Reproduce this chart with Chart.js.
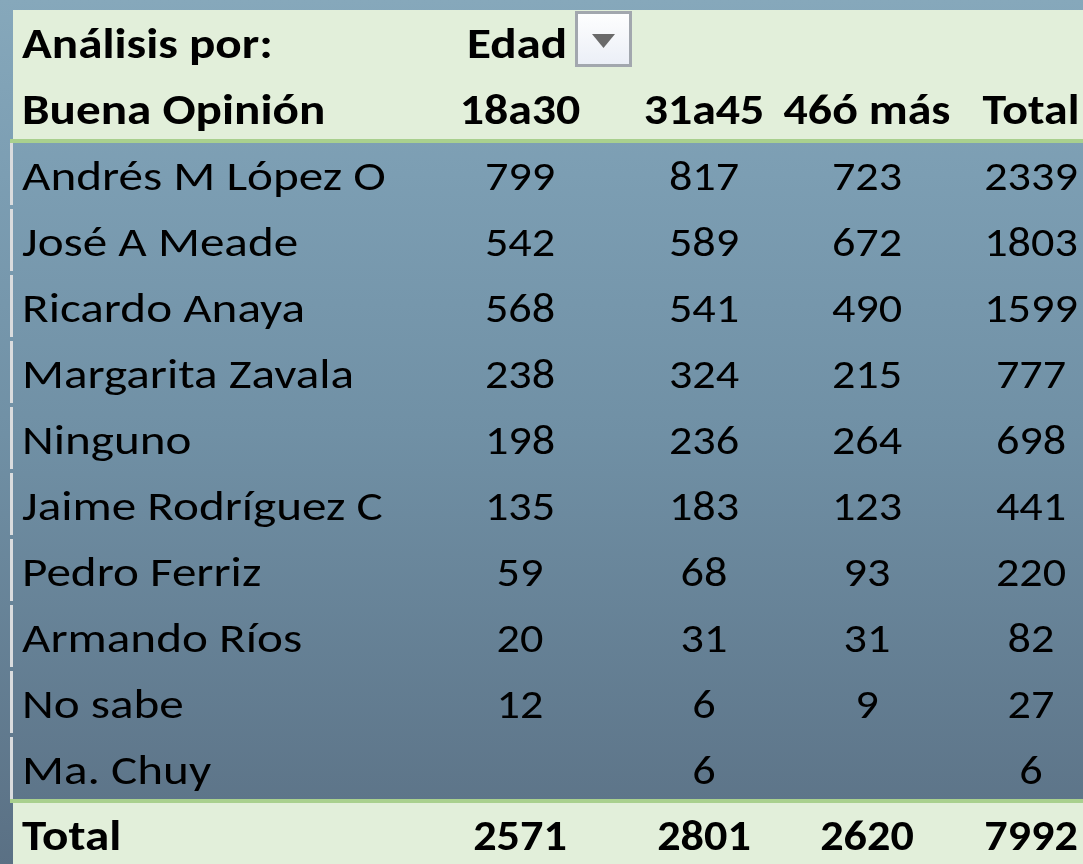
<!DOCTYPE html>
<html>
<head>
<meta charset="utf-8">
<script src="https://cdn.jsdelivr.net/npm/chart.js@4/dist/chart.umd.min.js"></script>
<style>
html,body{margin:0;padding:0;overflow:hidden;background:#7391a6;}
#wrap{width:1083px;height:868px;}
canvas{display:block;}
</style>
</head>
<body>
<div id="wrap"><canvas id="c" width="1083" height="868"></canvas></div>
<script>
// ---- data ----
const titleLabel = 'Análisis por:';
const fieldLabel = 'Edad';
const rowHeader = 'Buena Opinión';
const candidates = ['Andrés M López O','José A Meade','Ricardo Anaya','Margarita Zavala','Ninguno','Jaime Rodríguez C','Pedro Ferriz','Armando Ríos','No sabe','Ma. Chuy'];
const ageGroups = ['18a30','31a45','46ó más'];
const totalLabel = 'Total';
const v18a30 = [799,542,568,238,198,135,59,20,12,null];
const v31a45 = [817,589,541,324,236,183,68,31,6,6];
const v46mas = [723,672,490,215,264,123,93,31,9,null];
const rowTotals = [2339,1803,1599,777,698,441,220,82,27,6];
const colTotals = [2571,2801,2620];
const grandTotal = 7992;

// ---- layout (not data) ----
const FONT = 'Carlito, Lato, sans-serif';
const FS = 42;
const SX_TEXT = 1.17;   // horizontal stretch to mimic Calibri widths
const SX_NUM = 1.1;
const colCenter = [520, 704, 867, 1031]; // x positions on the linear x scale (age columns + total)
const labelX = 22;

const yLabels = [titleLabel, rowHeader, ...candidates, totalLabel];
const seriesVals = [v18a30, v31a45, v46mas, rowTotals];

const datasets = seriesVals.map((arr, c) => ({
  label: c < 3 ? ageGroups[c] : totalLabel,
  data: arr.map((v, i) => ({x: colCenter[c], y: candidates[i], v: v})),
  pointRadius: 0, showLine: false
}));
datasets.push({
  label: 'colTotals',
  data: [...colTotals, grandTotal].map((v, c) => ({x: colCenter[c], y: totalLabel, v: v, bold: true})),
  pointRadius: 0, showLine: false
});
datasets.push({
  label: 'headers',
  data: [...ageGroups, totalLabel].map((t, c) => ({x: colCenter[c], y: rowHeader, v: t, bold: true, text: true})),
  pointRadius: 0, showLine: false
});

function rowBand(yScale, label) {
  const idx = yLabels.indexOf(label);
  const pitch = (yScale.bottom - yScale.top) / yLabels.length;
  const top = yScale.top + idx * pitch;
  return {top: top, bottom: top + pitch, center: top + pitch / 2};
}

function drawText(ctx, str, x, y, align, sx) {
  ctx.save();
  ctx.translate(x, y);
  ctx.scale(sx, 1);
  ctx.textAlign = align;
  ctx.fillText(str, 0, 0);
  ctx.restore();
}

const tablePlugin = {
  id: 'tableBg',
  beforeDraw(chart) {
    const ctx = chart.ctx, W = chart.width, H = chart.height;
    const ys = chart.scales.y;
    ctx.save();
    const g = ctx.createLinearGradient(0, 0, 0, H);
    g.addColorStop(0, '#86a8bb');
    g.addColorStop(0.2, '#7c9eb3');
    g.addColorStop(0.5, '#7090a5');
    g.addColorStop(1, '#5a7084');
    ctx.fillStyle = g;
    ctx.fillRect(0, 0, W, H);

    const h2 = rowBand(ys, rowHeader);
    const tot = rowBand(ys, totalLabel);
    ctx.fillStyle = '#e2efda';
    ctx.fillRect(13, ys.top, W - 13, h2.bottom - 3 - ys.top);
    ctx.fillRect(13, tot.top + 1, W - 13, H - tot.top);
    ctx.fillStyle = '#a9d08e';
    ctx.fillRect(10, h2.bottom - 3, W - 10, 4);
    ctx.fillRect(10, tot.top - 3, W - 10, 4);
    ctx.fillStyle = '#dadcde';
    candidates.forEach((c) => {
      const b = rowBand(ys, c);
      const t = b.top + 1;
      ctx.fillRect(10, t, 3, b.bottom - 3 - t);
    });
    ctx.restore();
  },
  afterDatasetsDraw(chart) {
    const ctx = chart.ctx;
    const ys = chart.scales.y, xs = chart.scales.x;
    ctx.save();
    ctx.fillStyle = '#000';
    ctx.textBaseline = 'alphabetic';
    const capHalf = 15;
    yLabels.forEach((lab, i) => {
      const y = ys.getPixelForValue(i);
      const bold = (lab === titleLabel || lab === rowHeader || lab === totalLabel);
      ctx.font = (bold ? 'bold ' : '') + FS + 'px ' + FONT;
      drawText(ctx, lab, labelX, y + capHalf, 'left', SX_TEXT);
    });
    const y0 = ys.getPixelForValue(0);
    const xe = xs.getPixelForValue(colCenter[0]);
    ctx.font = 'bold ' + FS + 'px ' + FONT;
    drawText(ctx, fieldLabel, xe - 3, y0 + capHalf, 'center', SX_TEXT);
    // dropdown button
    const bx = 575, by = y0 - 32, bw = 57, bh = 56;
    const gg = ctx.createLinearGradient(0, by, 0, by + bh);
    gg.addColorStop(0, '#ffffff');
    gg.addColorStop(1, '#eaeef6');
    ctx.fillStyle = '#a2a7ae';
    ctx.fillRect(bx, by, bw, bh);
    ctx.fillStyle = gg;
    ctx.fillRect(bx + 3, by + 3, bw - 6, bh - 6);
    ctx.fillStyle = '#6a6a6a';
    ctx.beginPath();
    ctx.moveTo(bx + 17, by + 23);
    ctx.lineTo(bx + 40, by + 23);
    ctx.lineTo(bx + 28.5, by + 37);
    ctx.closePath();
    ctx.fill();
    ctx.fillStyle = '#000';
    chart.data.datasets.forEach((ds, di) => {
      const meta = chart.getDatasetMeta(di);
      meta.data.forEach((el, i) => {
        const d = ds.data[i];
        if (d.v === null || d.v === undefined) return;
        ctx.font = (d.bold ? 'bold ' : '') + FS + 'px ' + FONT;
        drawText(ctx, String(d.v), el.x, el.y + capHalf, 'center', d.text ? 1.14 : SX_NUM);
      });
    });
    ctx.restore();
  }
};

new Chart(document.getElementById('c'), {
  type: 'scatter',
  data: {datasets: datasets},
  options: {
    responsive: false,
    animation: false,
    events: [],
    layout: {padding: {top: 10, left: 0, right: 0, bottom: 0}},
    plugins: {legend: {display: false}, tooltip: {enabled: false}},
    scales: {
      x: {type: 'linear', min: 0, max: 1083, display: false},
      y: {type: 'category', labels: yLabels, offset: true, display: false}
    }
  },
  plugins: [tablePlugin]
});
</script>
</body>
</html>
